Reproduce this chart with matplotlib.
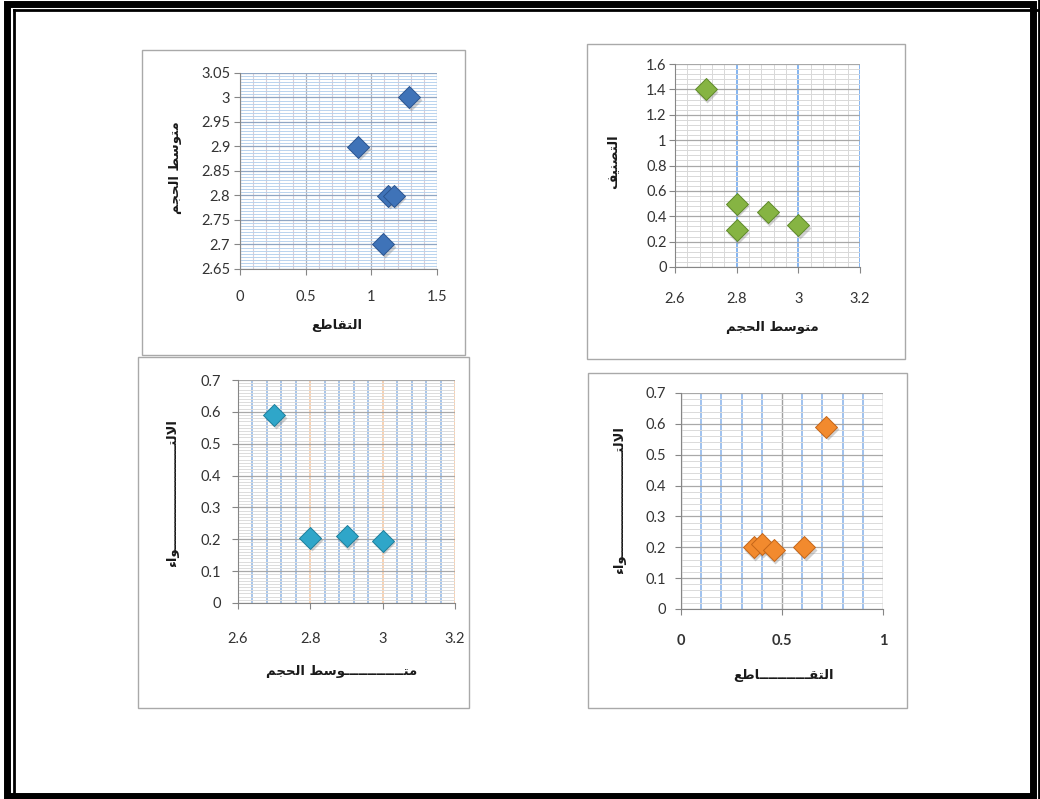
import matplotlib

matplotlib.use("Agg")
import matplotlib.pyplot as plt
from matplotlib.lines import Line2D
from matplotlib.patches import Rectangle
from matplotlib.ticker import MultipleLocator
from matplotlib.transforms import offset_copy

W, H = 1040, 799

# axis titles (logical Arabic order)
LBL_SIZE = "متوسط الحجم"
LBL_SIZE_LONG = "متـــــــــــــوسط الحجم"
LBL_CROSS = "التقاطع"
LBL_CROSS_LONG = "التقـــــــــــاطع"
LBL_CLASS = "التصنيف"
LBL_SKEW = "الالتـــــــــــــــــــــــواء"

# top-left: intersection vs mean size
cross_a = [1.29, 0.90, 1.13, 1.17, 1.09]
size_a = [3.0, 2.9, 2.8, 2.8, 2.7]

# top-right: mean size vs classification
size_b = [2.7, 2.8, 2.8, 2.9, 3.0]
class_b = [1.4, 0.5, 0.29, 0.43, 0.33]

# bottom-left: mean size vs skewness
size_c = [2.7, 2.8, 2.9, 3.0]
skew_c = [0.59, 0.205, 0.21, 0.195]

# bottom-right: intersection vs skewness
cross_d = [0.72, 0.36, 0.40, 0.46, 0.61]
skew_d = [0.59, 0.20, 0.21, 0.19, 0.20]

# presentation forms: (isolated, final, initial, medial) or right-joining only
FORMS = {
    "ء": (0xFE80,),
    "ا": (0xFE8D, 0xFE8E),
    "و": (0xFEED, 0xFEEE),
    "ت": (0xFE95, 0xFE96, 0xFE97, 0xFE98),
    "ج": (0xFE9D, 0xFE9E, 0xFE9F, 0xFEA0),
    "ح": (0xFEA1, 0xFEA2, 0xFEA3, 0xFEA4),
    "س": (0xFEB1, 0xFEB2, 0xFEB3, 0xFEB4),
    "ص": (0xFEB9, 0xFEBA, 0xFEBB, 0xFEBC),
    "ط": (0xFEC1, 0xFEC2, 0xFEC3, 0xFEC4),
    "ع": (0xFEC9, 0xFECA, 0xFECB, 0xFECC),
    "ف": (0xFED1, 0xFED2, 0xFED3, 0xFED4),
    "ق": (0xFED5, 0xFED6, 0xFED7, 0xFED8),
    "ل": (0xFEDD, 0xFEDE, 0xFEDF, 0xFEE0),
    "م": (0xFEE1, 0xFEE2, 0xFEE3, 0xFEE4),
    "ن": (0xFEE5, 0xFEE6, 0xFEE7, 0xFEE8),
    "ي": (0xFEF1, 0xFEF2, 0xFEF3, 0xFEF4),
    "ـ": (0x0640, 0x0640, 0x0640, 0x0640),
}


def shape_arabic(text: str) -> str:
    """Contextual forms + visual (left-to-right) order, since matplotlib does no shaping."""
    chars = list(text)
    glyphs = []
    i = 0
    while i < len(chars):
        c = chars[i]
        if c not in FORMS:
            glyphs.append(c)
            i += 1
            continue
        prev = chars[i - 1] if i > 0 else ""
        linked_before = prev in FORMS and len(FORMS[prev]) == 4 and len(FORMS[c]) > 1
        if c == "ل" and i + 1 < len(chars) and chars[i + 1] == "ا":
            glyphs.append(chr(0xFEFC if linked_before else 0xFEFB))
            i += 2
            continue
        forms = FORMS[c]
        nxt = chars[i + 1] if i + 1 < len(chars) else ""
        linked_after = len(forms) == 4 and nxt in FORMS and len(FORMS[nxt]) > 1
        if len(forms) == 1:
            g = forms[0]
        elif linked_before and linked_after:
            g = forms[3]
        elif linked_before:
            g = forms[1]
        elif linked_after:
            g = forms[2]
        else:
            g = forms[0]
        glyphs.append(chr(g))
        i += 1
    return "".join(reversed(glyphs))


plt.rcParams.update(
    {
        "font.family": ["Lato", "DejaVu Sans"],
        "axes.edgecolor": "#868686",
        "axes.linewidth": 0.8,
        "xtick.color": "#868686",
        "ytick.color": "#868686",
        "xtick.labelcolor": "#333333",
        "ytick.labelcolor": "#333333",
        "xtick.labelsize": 10.5,
        "ytick.labelsize": 10.5,
    }
)


def px_axes(fig, left, top, right, bottom):
    return fig.add_axes([left / W, 1 - bottom / H, (right - left) / W, (bottom - top) / H])


def chart_box(fig, left, top, right, bottom):
    fig.add_artist(
        Rectangle(
            (left / W, 1 - bottom / H),
            (right - left) / W,
            (bottom - top) / H,
            transform=fig.transFigure,
            facecolor="none",
            edgecolor="#a9a9a9",
            linewidth=1.0,
        )
    )


def place_labels(ax, box, xlab, ylab, xpos, ypos):
    left, top, right, bottom = box
    fx = lambda px: (px - left) / (right - left)
    fy = lambda py: (bottom - py) / (bottom - top)
    ax.set_xlabel(shape_arabic(xlab), family="DejaVu Sans", fontsize=9.5, weight="bold", color="#1a1a1a")
    ax.set_ylabel(shape_arabic(ylab), family="DejaVu Sans", fontsize=9.5, weight="bold", color="#1a1a1a")
    ax.xaxis.set_label_coords(fx(xpos[0]), fy(xpos[1]))
    ax.yaxis.set_label_coords(fx(ypos[0]), fy(ypos[1]))
    ax.xaxis.label.set_va("center")
    ax.yaxis.label.set_va("center")


def style_axes(ax, xpad, ypad):
    ax.set_axisbelow(True)
    ax.spines[["top", "right"]].set_visible(False)
    ax.tick_params(which="major", direction="out", length=4, width=0.8)
    ax.tick_params(which="minor", length=0)
    ax.tick_params(axis="x", pad=xpad)
    ax.tick_params(axis="y", pad=ypad)


def diamonds(ax, fig, x, y, face, edge):
    shadow = offset_copy(ax.transData, fig=fig, x=1.5, y=-2.5, units="dots")
    ax.scatter(x, y, marker="D", s=125, color="#7a7a7a", alpha=0.35, linewidths=0, transform=shadow, zorder=3, clip_on=False)
    ax.scatter(x, y, marker="D", s=125, color=face, edgecolors=edge, linewidths=0.7, zorder=4, clip_on=False)


def fmt(v, _pos):
    return f"{v:g}"


fig = plt.figure(figsize=(W / 100, H / 100), dpi=100)
fig.patch.set_facecolor("white")

# page frame: heavy rule plus a thin inner rule
fig.add_artist(Rectangle((6.5 / W, 1 - 795.5 / H), 1026.5 / W, 792 / H, transform=fig.transFigure,
                         facecolor="none", edgecolor="black", linewidth=5.0))
for xs, ys in (([13.5, 13.5], [9.5, 799]), ([13.5, 1040], [9.5, 9.5]), ([1039, 1039], [0, 799])):
    fig.add_artist(Line2D([v / W for v in xs], [1 - v / H for v in ys], transform=fig.transFigure,
                          color="black", linewidth=2.0))

# ---- top-left ----
box1 = (142, 50, 465, 355)
chart_box(fig, *box1)
ax1 = px_axes(fig, 240, 73, 437, 269)
ax1.set_xlim(0, 1.5)
ax1.set_ylim(2.65, 3.05)
ax1.xaxis.set_major_locator(MultipleLocator(0.5))
ax1.xaxis.set_minor_locator(MultipleLocator(0.1))
ax1.yaxis.set_major_locator(MultipleLocator(0.05))
ax1.yaxis.set_minor_locator(MultipleLocator(0.00625))
ax1.grid(which="minor", axis="y", color="#b9d3ee", linewidth=0.7)
ax1.grid(which="major", axis="y", color="#8fa6c4", linewidth=0.9)
ax1.grid(which="minor", axis="x", color="#d9cdd6", linewidth=0.8)
ax1.grid(which="major", axis="x", color="#b0b0b8", linewidth=0.9)
ax1.xaxis.set_major_formatter(fmt)
ax1.yaxis.set_major_formatter(fmt)
style_axes(ax1, 11, 3)
diamonds(ax1, fig, cross_a, size_a, "#3f73b8", "#2c5590")
place_labels(ax1, (240, 73, 437, 269), LBL_CROSS, LBL_SIZE, (337, 325), (176, 168))

# ---- top-right ----
box2 = (587, 44, 905, 359)
chart_box(fig, *box2)
ax2 = px_axes(fig, 675, 64, 860, 267)
ax2.set_xlim(2.6, 3.2)
ax2.set_ylim(0, 1.6)
ax2.xaxis.set_major_locator(MultipleLocator(0.2))
ax2.xaxis.set_minor_locator(MultipleLocator(0.04))
ax2.yaxis.set_major_locator(MultipleLocator(0.2))
ax2.yaxis.set_minor_locator(MultipleLocator(0.04))
ax2.grid(which="minor", color="#d8d8d8", linewidth=0.7)
ax2.grid(which="major", axis="y", color="#a8a8a8", linewidth=0.9)
ax2.grid(which="major", axis="x", color="#6fa8ee", linewidth=1.2)
ax2.xaxis.set_major_formatter(fmt)
ax2.yaxis.set_major_formatter(fmt)
style_axes(ax2, 14, 2)
diamonds(ax2, fig, size_b, class_b, "#86b443", "#5f8a2a")
place_labels(ax2, (675, 64, 860, 267), LBL_SIZE, LBL_CLASS, (772, 328), (613, 162))

# ---- bottom-left ----
box3 = (138, 357, 469, 708)
chart_box(fig, *box3)
ax3 = px_axes(fig, 238, 380, 455, 603)
ax3.set_xlim(2.6, 3.2)
ax3.set_ylim(0, 0.7)
ax3.xaxis.set_major_locator(MultipleLocator(0.2))
ax3.xaxis.set_minor_locator(MultipleLocator(0.04))
ax3.yaxis.set_major_locator(MultipleLocator(0.1))
ax3.yaxis.set_minor_locator(MultipleLocator(0.01))
ax3.grid(which="minor", axis="y", color="#dcdcdc", linewidth=0.7)
ax3.grid(which="major", axis="y", color="#a9a9a9", linewidth=0.9)
ax3.grid(which="minor", axis="x", color="#8fb5e4", linewidth=1.1)
ax3.grid(which="major", axis="x", color="#f6c59c", linewidth=1.1)
ax3.xaxis.set_major_formatter(fmt)
ax3.yaxis.set_major_formatter(fmt)
style_axes(ax3, 17, 8)
diamonds(ax3, fig, size_c, skew_c, "#2fa6c9", "#1f7f9c")
place_labels(ax3, (238, 380, 455, 603), LBL_SIZE_LONG, LBL_SKEW, (342, 672), (173, 493))

# ---- bottom-right ----
box4 = (588, 373, 907, 708)
chart_box(fig, *box4)
ax4 = px_axes(fig, 681, 393, 883, 609)
ax4.set_xlim(0, 1)
ax4.set_ylim(0, 0.7)
ax4.xaxis.set_major_locator(MultipleLocator(0.5))
ax4.xaxis.set_minor_locator(MultipleLocator(0.1))
ax4.yaxis.set_major_locator(MultipleLocator(0.1))
ax4.yaxis.set_minor_locator(MultipleLocator(0.02))
ax4.grid(which="minor", axis="y", color="#dadada", linewidth=0.7)
ax4.grid(which="major", axis="y", color="#a9a9a9", linewidth=0.9)
ax4.grid(which="minor", axis="x", color="#86b1ea", linewidth=1.1)
ax4.grid(which="major", axis="x", color="#a0a0a0", linewidth=1.0)
for tick in ax4.yaxis.get_major_ticks():
    if tick.get_loc() > 0.45:
        tick.gridline.set_color("#7eaaf0")
        tick.gridline.set_linewidth(1.2)
ax4.xaxis.set_major_formatter(fmt)
ax4.yaxis.set_major_formatter(fmt)
style_axes(ax4, 14, 7)
for lab in ax4.get_xticklabels():
    lab.set_fontweight("bold")
diamonds(ax4, fig, cross_d, skew_d, "#f28a2e", "#c4661a")
place_labels(ax4, (681, 393, 883, 609), LBL_CROSS_LONG, LBL_SKEW, (783, 676), (620, 500))

fig.savefig("out.png", dpi=100)
